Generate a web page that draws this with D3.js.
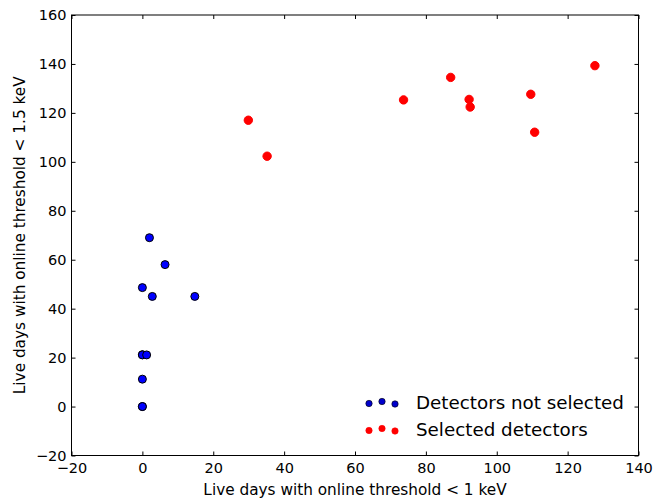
<!DOCTYPE html>
<html><head><meta charset="utf-8">
<script src="https://cdn.jsdelivr.net/npm/d3@7"></script>
<style>body{margin:0;background:#fff}svg{display:block}text{font-family:"DejaVu Sans",sans-serif}</style>
</head><body><svg id="c" width="654" height="501"></svg>
<script>
const notSelX = [0, 0, 0, 0, 0, 1.2, 0, 2.8, 14.8, 6.4, 2];
const notSelY = [0, 0, 11.2, 21.2, 21.1, 21.1, 48.6, 45, 45, 58, 69];
const selX = [29.9, 35.2, 73.7, 87, 92.2, 92.5, 109.6, 110.7, 127.7];
const selY = [117, 102.3, 125.3, 134.5, 125.5, 122.4, 127.6, 112.1, 139.3];
const xTicks = [-20, 0, 20, 40, 60, 80, 100, 120, 140];
const yTicks = [-20, 0, 20, 40, 60, 80, 100, 120, 140, 160];
const seriesNames = ["Detectors not selected", "Selected detectors"];
const xLabel = "Live days with online threshold < 1 keV";
const yLabel = "Live days with online threshold < 1.5 keV";

const L = 71.5, R = 638.5, T = 15, B = 455.5;
const svg = d3.select("#c");
const x = d3.scaleLinear().domain([-20, 140]).range([L, R]);
const y = d3.scaleLinear().domain([-20, 160]).range([B, T]);
const fmt = d => d < 0 ? "\u2212" + Math.abs(d) : String(d);

const tl = 4;
const gb = svg.append("g").attr("transform", `translate(0,${B})`)
  .call(d3.axisBottom(x).tickValues(xTicks).tickFormat(fmt).tickSizeInner(-tl).tickSizeOuter(0).tickPadding(7));
const gt = svg.append("g").attr("transform", `translate(0,${T})`)
  .call(d3.axisTop(x).tickValues(xTicks).tickFormat("").tickSizeInner(-tl).tickSizeOuter(0));
const gl = svg.append("g").attr("transform", `translate(${L},0)`)
  .call(d3.axisLeft(y).tickValues(yTicks).tickFormat(fmt).tickSizeInner(-tl).tickSizeOuter(0).tickPadding(5));
const gr = svg.append("g").attr("transform", `translate(${R},0)`)
  .call(d3.axisRight(y).tickValues(yTicks).tickFormat("").tickSizeInner(-tl).tickSizeOuter(0));
[gb, gt, gl, gr].forEach(g => {
  g.select(".domain").remove();
  g.selectAll("line").attr("stroke", "#000").attr("stroke-width", 1);
  g.selectAll("text").attr("font-size", 14.5).attr("fill", "#000").style("font-family", "DejaVu Sans");
});
svg.append("rect").attr("x", L).attr("y", T).attr("width", R - L).attr("height", B - T)
  .attr("fill", "none").attr("stroke", "#000").attr("stroke-width", 1);

const nsData = notSelX.map((d, i) => [d, notSelY[i]]);
const sData = selX.map((d, i) => [d, selY[i]]);
svg.append("g").selectAll("circle").data(nsData).join("circle")
  .attr("cx", d => x(d[0])).attr("cy", d => y(d[1])).attr("r", 4)
  .attr("fill", "#0000ff").attr("stroke", "#000").attr("stroke-width", 1);
svg.append("g").selectAll("circle").data(sData).join("circle")
  .attr("cx", d => x(d[0])).attr("cy", d => y(d[1])).attr("r", 4.2)
  .attr("fill", "#ff0000").attr("stroke", "#ff0000").attr("stroke-width", 1);

svg.append("text").attr("x", (L + R) / 2).attr("y", 495).attr("text-anchor", "middle")
  .attr("font-size", 15.3).text(xLabel);
svg.append("text").attr("transform", `translate(25,${(T + B) / 2}) rotate(-90)`).attr("text-anchor", "middle")
  .attr("font-size", 15.3).text(yLabel);

const legY = [403, 430];
const offs = [[-13, 0.5], [0, -1.5], [13, 1]];
const cols = [["#0000cc", "#000"], ["#ff0000", "#ff0000"]];
seriesNames.forEach((name, i) => {
  offs.forEach(o => {
    svg.append("circle").attr("cx", 382 + o[0]).attr("cy", legY[i] + o[1]).attr("r", 3.2)
      .attr("fill", cols[i][0]).attr("stroke", cols[i][1]).attr("stroke-width", 0.6);
  });
  svg.append("text").attr("x", 416).attr("y", legY[i] + 6).attr("font-size", 18.3).text(name);
});
</script></body></html>
